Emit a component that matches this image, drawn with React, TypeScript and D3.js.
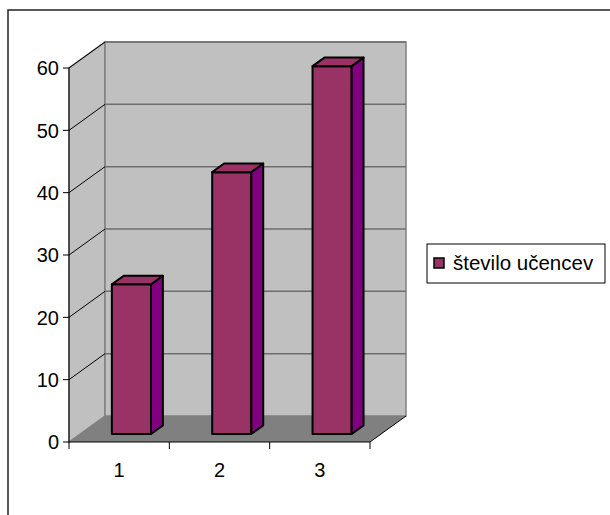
import * as d3 from "d3";

// chart data
const categories = ["1", "2", "3"];
const values = [24, 42, 59];
const yTicks = [0, 10, 20, 30, 40, 50, 60];
const seriesName = "število učencev";

const FONT = "'Liberation Sans', Arial, sans-serif";

export default function App() {
  const W = 610;
  const H = 515;
  const left = 69;
  const right = 370;
  const bottom = 442;
  const top = 68;
  const depthX = 36;
  const depthY = -26;

  const x = d3.scaleBand<string>().domain(categories).range([left, right]);
  const y = d3.scaleLinear().domain([0, 60]).range([bottom, top]);
  const bw = x.bandwidth();

  // walls
  const leftWall = [
    [left, bottom],
    [left, top],
    [left + depthX, top + depthY],
    [left + depthX, bottom + depthY],
  ];
  const backWall = [
    [left + depthX, top + depthY],
    [right + depthX, top + depthY],
    [right + depthX, bottom + depthY],
    [left + depthX, bottom + depthY],
  ];
  const floor = [
    [left, bottom],
    [right, bottom],
    [right + depthX, bottom + depthY],
    [left + depthX, bottom + depthY],
  ];
  const pts = (p: number[][]) => p.map((d) => d.join(",")).join(" ");

  // bar depth placement
  const f0 = 0.31;
  const f1 = 0.64;
  const barW = bw * 0.39;

  return (
    <svg
      width={W}
      height={H}
      style={{ position: "absolute", left: 0, top: 0, background: "#fff" }}
    >
      <rect x={8} y={10} width={700} height={600} fill="#fff" stroke="#222" strokeWidth={1.5} />

      <polygon points={pts(leftWall)} fill="#c0c0c0" stroke="#808080" strokeWidth={1.5} />
      <polygon points={pts(backWall)} fill="#c0c0c0" stroke="#808080" strokeWidth={1.5} />
      <polygon points={pts(floor)} fill="#808080" stroke="none" />
      <line x1={right} y1={bottom} x2={right + depthX} y2={bottom + depthY} stroke="#000" strokeWidth={1} />

      {/* gridlines */}
      {yTicks.filter((t) => t > 0).map((t) => (
        <g key={t}>
          <line
            x1={left + depthX}
            x2={right + depthX}
            y1={y(t) + depthY}
            y2={y(t) + depthY}
            stroke="#6e6e6e"
            strokeWidth={1.5}
          />
          <line
            x1={left}
            x2={left + depthX}
            y1={y(t)}
            y2={y(t) + depthY}
            stroke="#000"
            strokeWidth={1}
          />
        </g>
      ))}

      {/* axes */}
      <line x1={left} x2={left} y1={bottom} y2={top} stroke="#000" strokeWidth={1} />
      <line x1={left} x2={right} y1={bottom} y2={bottom} stroke="#000" strokeWidth={1} />
      {yTicks.map((t) => (
        <g key={t}>
          <line x1={left - 6} x2={left} y1={y(t)} y2={y(t)} stroke="#000" />
          <text
            x={left - 10}
            y={y(t)}
            dy="0.36em"
            textAnchor="end"
            fontFamily={FONT}
            fontSize={20}
          >
            {t}
          </text>
        </g>
      ))}
      {[...categories.map((c) => x(c)!), right].map((tx, i) => (
        <line key={i} x1={tx} x2={tx} y1={bottom} y2={bottom + 7} stroke="#000" />
      ))}
      {categories.map((c) => (
        <text
          key={c}
          x={x(c)! + bw / 2}
          y={bottom + 35}
          textAnchor="middle"
          fontFamily={FONT}
          fontSize={20}
        >
          {c}
        </text>
      ))}

      {/* bars */}
      {categories.map((c, i) => {
        const x0 = x(c)! + bw * 0.316 + depthX * f0;
        const x1 = x0 + barW;
        const yb = y(0) + depthY * f0;
        const yt = y(values[i]) + depthY * f0;
        const ddx = depthX * (f1 - f0);
        const ddy = depthY * (f1 - f0);
        return (
          <g key={c} stroke="#000" strokeWidth={2} strokeLinejoin="round">
            <polygon points={pts([[x0, yt], [x1, yt], [x1, yb], [x0, yb]])} fill="#993366" />
            <polygon points={pts([[x1, yt], [x1 + ddx, yt + ddy], [x1 + ddx, yb + ddy], [x1, yb]])} fill="#800080" />
            <polygon points={pts([[x0, yt], [x0 + ddx, yt + ddy], [x1 + ddx, yt + ddy], [x1, yt]])} fill="#993366" />
          </g>
        );
      })}

      {/* legend */}
      <rect x={427} y={244} width={178} height={39} fill="#fff" stroke="#000" strokeWidth={1} />
      <rect x={434} y={258} width={10} height={10} fill="#993366" stroke="#000" strokeWidth={1.5} />
      <text x={453} y={270} fontFamily={FONT} fontSize={20.5}>
        {seriesName}
      </text>
    </svg>
  );
}
